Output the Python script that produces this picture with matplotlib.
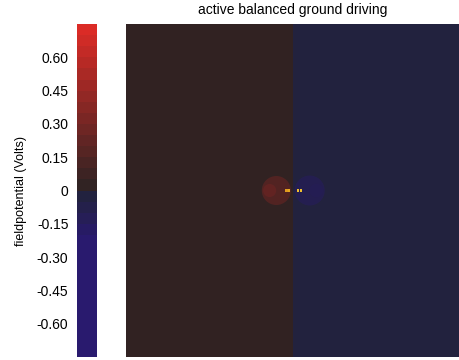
import matplotlib
matplotlib.use("Agg")
import matplotlib.pyplot as plt
import numpy as np
from matplotlib.colors import LinearSegmentedColormap, BoundaryNorm
from matplotlib.patches import Circle

plt.rcParams['font.family'] = ['Liberation Sans', 'DejaVu Sans']

title = "active balanced ground driving"
cbar_label = "fieldpotential (Volts)"
cbar_ticks = [0.60, 0.45, 0.30, 0.15, 0.0, -0.15, -0.30, -0.45, -0.60]
cbar_ticklabels = ["0.60", "0.45", "0.30", "0.15", "0", "-0.15", "-0.30", "-0.45", "-0.60"]
vmin, vmax = -0.75, 0.75
n_bands = 30

# field halves (left = positive side, right = negative side)
field = np.array([[0.02, -0.02]])
# charges: x position, value, radius, opacity
charge_x = [-0.10, 0.10]
charge_val = [0.75, -0.75]
charge_r = [0.087, 0.09]
charge_alpha = [0.2, 0.38]
# electrode dots
dot_x = [-0.039, -0.024, 0.030, 0.048]
dot_y = [0.0, 0.0, 0.0, 0.0]
dot_colors = ['#e09a20', '#e8a820', '#f0c030', '#f0c030']

cmap = LinearSegmentedColormap.from_list("fp", [
    (0.0, (0.16, 0.10, 0.43)),
    (0.35, (0.16, 0.10, 0.43)),
    (0.4999, (0.13, 0.14, 0.22)),
    (0.5001, (0.17, 0.135, 0.135)),
    (1.0, (0.86, 0.17, 0.15)),
], N=512)
bounds = np.linspace(vmin, vmax, n_bands + 1)
norm = BoundaryNorm(bounds, cmap.N)

fig = plt.figure(figsize=(4.6, 3.6), dpi=100)
ax = fig.add_axes([0.274, 0.0083, 0.726, 0.925])
cax = fig.add_axes([0.167, 0.0083, 0.0435, 0.925])

im = ax.imshow(field, cmap=cmap, norm=norm, extent=[-1, 1, -1, 1], aspect='auto',
               interpolation='nearest')
for x, v, r, a in zip(charge_x, charge_val, charge_r, charge_alpha):
    col = cmap(norm(v))
    ax.add_patch(Circle((x, 0.0), r, color=col, alpha=a, lw=0))
    ax.add_patch(Circle((x + np.sign(-v) * 0.04, 0.0), r * 0.45, color=col, alpha=0.12, lw=0))
ax.scatter(dot_x, dot_y, s=4, marker='s', color=dot_colors, edgecolors='none', zorder=5)
ax.set_xlim(-1, 1)
ax.set_ylim(-1, 1)
ax.axis('off')
fig.text(0.637, 0.972, title, ha='center', va='center', fontsize=10)

cb = fig.colorbar(im, cax=cax, ticks=cbar_ticks)
cb.outline.set_visible(False)
cax.minorticks_off()
cax.yaxis.set_ticks_position('left')
cax.yaxis.set_label_position('left')
cax.set_yticks(cbar_ticks)
cax.set_yticklabels(cbar_ticklabels)
cax.tick_params(length=0, labelsize=10, pad=6)
cax.set_ylim(vmin, vmax)
cb.set_label(cbar_label, fontsize=9, labelpad=7)

fig.savefig("out.png", dpi=100)
